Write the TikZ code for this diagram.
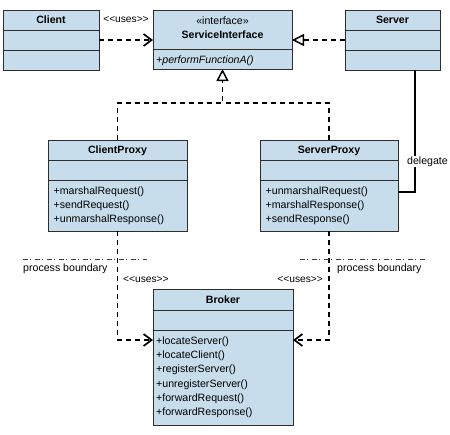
\documentclass[tikz,border=0pt]{standalone}
\usepackage{fontspec}
\setmainfont{Liberation Sans}
\usetikzlibrary{arrows.meta}
\definecolor{boxfill}{RGB}{199,221,236}
\definecolor{boxline}{RGB}{45,45,45}
\tikzset{
  classbox/.style={draw=boxline, fill=boxfill, line width=1pt, inner sep=0pt, outer sep=0pt, anchor=north west},
  divline/.style={draw=boxline, line width=1pt},
  txt/.style={font=\fontsize{10.6}{12}\selectfont, inner sep=0pt, text height=7.8pt, text depth=2pt},
  ttl/.style={txt, font=\fontsize{10.6}{12}\selectfont\bfseries},
  meth/.style={txt, anchor=west},
  small/.style={txt, font=\fontsize{10.2}{12}\selectfont},
  dep/.style={line width=1.8pt, dash pattern=on 5pt off 4pt},
  usesarrow/.style={dep, -{Straight Barb[length=8pt,width=12pt,line width=1.7pt]}},
  realize/.style={dep, -{Triangle[open,length=12pt,width=12pt,line width=1.5pt,fill=white]}},
  assoc/.style={line width=1.8pt},
  boundary/.style={line width=1pt, draw=black!75, dash pattern=on 5pt off 1.5pt on 1.5pt off 4pt},
}
\begin{document}
\begin{tikzpicture}[x=1pt,y=-1pt]
\useasboundingbox (0,0) rectangle (450,434);
% Client
\node[classbox, minimum width=96pt, minimum height=60pt] (client) at (3,10) {};
\draw[divline] (3,30) -- (99,30);
\draw[divline] (3,50) -- (99,50);
\node[ttl] (clientT) at (51,20.8) {Client};
% ServiceInterface
\node[classbox, minimum width=139pt, minimum height=59pt] (si) at (153,10) {};
\draw[divline] (153,49) -- (292,49);
\node[txt] (siS) at (222.5,21.5) {«interface»};
\node[ttl] (siT) at (222.5,35.8) {ServiceInterface};
\node[meth, font=\fontsize{10.6}{12}\selectfont\itshape] (siM) at (156,61) {+performFunctionA()};
% Server
\node[classbox, minimum width=95pt, minimum height=60pt] (server) at (345,10) {};
\draw[divline] (345,30) -- (440,30);
\draw[divline] (345,50) -- (440,50);
\node[ttl] (serverT) at (392.5,20.8) {Server};
% ClientProxy
\node[classbox, minimum width=139pt, minimum height=91pt] (cp) at (48,140) {};
\draw[divline] (48,160) -- (187,160);
\draw[divline] (48,180) -- (187,180);
\node[ttl] (cpT) at (117.5,150.8) {ClientProxy};
\node[meth] (cp1) at (53.5,191.5) {+marshalRequest()};
\node[meth] (cp2) at (53.5,205.5) {+sendRequest()};
\node[meth] (cp3) at (53.5,219.5) {+unmarshalResponse()};
% ServerProxy
\node[classbox, minimum width=138pt, minimum height=91pt] (sp) at (260,140) {};
\draw[divline] (260,160) -- (398,160);
\draw[divline] (260,180) -- (398,180);
\node[ttl] (spT) at (329,150.8) {ServerProxy};
\node[meth] (sp1) at (265.5,191.5) {+unmarshalRequest()};
\node[meth] (sp2) at (265.5,205.5) {+marshalResponse()};
\node[meth] (sp3) at (265.5,219.5) {+sendResponse()};
% Broker
\node[classbox, minimum width=140pt, minimum height=136pt] (broker) at (153,289) {};
\draw[divline] (153,310) -- (293,310);
\draw[divline] (153,330) -- (293,330);
\node[ttl] (brT) at (223,300.8) {Broker};
\node[meth] (b1) at (156,341.5) {+locateServer()};
\node[meth] (b2) at (156,355.7) {+locateClient()};
\node[meth] (b3) at (156,369.9) {+registerServer()};
\node[meth] (b4) at (156,384.1) {+unregisterServer()};
\node[meth] (b5) at (156,398.3) {+forwardRequest()};
\node[meth] (b6) at (156,412.5) {+forwardResponse()};
% connectors
\draw[usesarrow] (client.east) -- (client.east -| si.west);
\node[small] (uses1) at (126,19.5) {<{}<uses>{}>};
\draw[realize] (server.west) -- (server.west -| si.east);
\coordinate (join) at (222.5,103);
\draw[realize] (cp.north) |- (join) -- (si.south);
\draw[dep] (sp.north) |- (join);
\draw[assoc] ([xshift=-25pt]server.south east) |- ([yshift=-6.5pt]sp.east);
\node[txt, fill=white, inner sep=1pt] (deleg) at (427.5,161.5) {delegate};
\draw[usesarrow] (cp.south) |- ([yshift=17pt]broker.west);
\draw[usesarrow] (sp.south) |- ([yshift=17pt]broker.east);
\node[small, anchor=west] (uses2) at (123,279.5) {<{}<uses>{}>};
\node[small, anchor=east] (uses3) at (323,279.5) {<{}<uses>{}>};
% process boundaries
\coordinate (pbl1) at (23,259.5);
\coordinate (pbl2) at (147,259.5);
\coordinate (pbr1) at (300,259.5);
\coordinate (pbr2) at (425,259.5);
\draw[boundary] (pbl1) -- (pbl2);
\draw[boundary] (pbr1) -- (pbr2);
\node[txt, anchor=west] (pbL) at (23,268.5) {process boundary};
\node[txt, anchor=west] (pbR) at (337,268.5) {process boundary};
\end{tikzpicture}
\end{document}
